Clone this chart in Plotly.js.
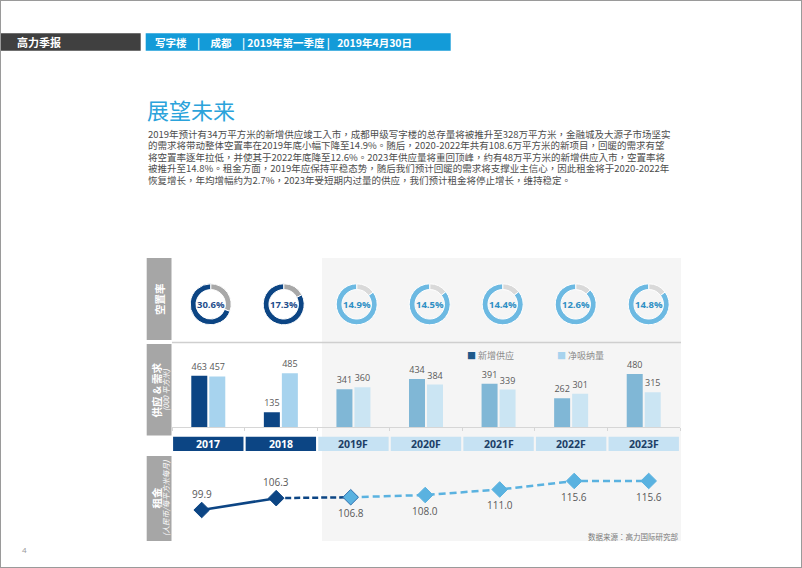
<!DOCTYPE html>
<html><head><meta charset="utf-8">
<script src="https://cdn.plot.ly/plotly-3.0.1.min.js"></script>
<style>html,body{margin:0;padding:0;background:#fff;}#chart{width:802px;height:568px;}</style>
</head><body><div id="chart"></div>
<script>
// ---------- data ----------
const years = ['2017','2018','2019F','2020F','2021F','2022F','2023F'];
const isForecast = [false,false,true,true,true,true,true];
const vacancy = [30.6,17.3,14.9,14.5,14.4,12.6,14.8];
const newSupply = [463,135,341,434,391,262,480];
const netAbsorption = [457,485,360,384,339,301,315];
const rent = [99.9,106.3,106.8,108.0,111.0,115.6,115.6];
const rentLabelAbove = [true,true,false,false,false,false,false];
const legendLabels = ['新增供应','净吸纳量'];
const headerLeft = '高力季报';
const headerRight = '写字楼\u3000|\u3000成都\u3000|\u20092019年第一季度\u2009|\u2002\u20092019年4月30日';
const pageTitle = '展望未来';
const paragraph = [
 '2019年预计有34万平方米的新增供应竣工入市，成都甲级写字楼的总存量将被推升至328万平方米，金融城及大源子市场坚实',
 '的需求将带动整体空置率在2019年底小幅下降至14.9%。随后，2020-2022年共有108.6万平方米的新项目，回暖的需求有望',
 '将空置率逐年拉低，并使其于2022年底降至12.6%。2023年供应量将重回顶峰，约有48万平方米的新增供应入市，空置率将',
 '被推升至14.8%。租金方面，2019年应保持平稳态势，随后我们预计回暖的需求将支撑业主信心，因此租金将于2020-2022年',
 '恢复增长，年均增幅约为2.7%，2023年受短期内过量的供应，我们预计租金将停止增长，维持稳定。'
];
const rowLabels = ['空置率','供应 & 需求','租金'];
const rowSubLabels = ['','(000 平方米)','(人民币/每平方米每月)'];
const sourceText = '数据来源：高力国际研究部';
const pageNo = '4';

// ---------- geometry helpers ----------
const W=802,H=568;
const X=p=>p/W, Y=p=>1-p/H;
const cjk='"Noto Sans CJK TC","Noto Sans CJK SC",sans-serif';
const num='"Open Sans","Noto Sans CJK TC",sans-serif';
const colL=172,colR=680;
const darkBlue='#0c4584', grayTxt='#595959';

const supplyColors = isForecast.map(f=>f?'#80b7d6':'#0c4584');
const absorbColors = isForecast.map(f=>f?'#cbe5f3':'#a7d3ee');

const traces=[];
traces.push({type:'bar',x:years,y:newSupply,xaxis:'x',yaxis:'y',marker:{color:supplyColors},
  text:newSupply.map(String),textposition:'outside',cliponaxis:false,
  textfont:{family:num,size:9,color:grayTxt},hoverinfo:'skip'});
traces.push({type:'bar',x:years,y:netAbsorption,xaxis:'x',yaxis:'y',marker:{color:absorbColors},
  text:netAbsorption.map(String),textposition:'outside',cliponaxis:false,
  textfont:{family:num,size:9,color:grayTxt},hoverinfo:'skip'});

const annotations=[], shapes=[];
function note(o){ annotations.push(Object.assign({xref:'paper',yref:'paper',showarrow:false,xanchor:'center',yanchor:'middle'},o)); }

// donuts
vacancy.forEach((v,i)=>{
  const cx=210.7+73*i, cy=304.3, r=20.5;
  const f=isForecast[i];
  traces.push({type:'pie',values:[v,100-v],sort:false,direction:'clockwise',rotation:0,
    hole:0.72,textinfo:'none',hoverinfo:'skip',showlegend:false,
    marker:{colors:[f?'#d9d9d9':'#a8a8a8', f?'#6cb9e2':'#0c4584'],line:{color:'#fff',width:1}},
    domain:{x:[X(cx-r),X(cx+r)],y:[Y(cy+r),Y(cy-r)]}});
  note({x:X(cx),y:Y(cy),text:'<b>'+v.toFixed(1)+'%</b>',font:{family:num,size:9.5,color:f?'#2f8fc4':'#1f4e8c'}});
});

// rent lines
const idx=years.map((_,i)=>i);
traces.push({type:'scatter',mode:'lines',xaxis:'x2',yaxis:'y2',x:idx.slice(0,2),y:rent.slice(0,2),
  line:{color:darkBlue,width:2.5},hoverinfo:'skip'});
traces.push({type:'scatter',mode:'lines',xaxis:'x2',yaxis:'y2',x:idx.slice(1,3),y:rent.slice(1,3),
  line:{color:darkBlue,width:2.5,dash:'6px,3px'},hoverinfo:'skip'});
traces.push({type:'scatter',mode:'lines',xaxis:'x2',yaxis:'y2',x:idx.slice(2),y:rent.slice(2),
  line:{color:'#5ab2e0',width:2.5,dash:'7px,4px'},hoverinfo:'skip'});
traces.push({type:'scatter',mode:'markers',xaxis:'x2',yaxis:'y2',x:idx,y:rent,hoverinfo:'skip',
  marker:{symbol:'diamond',size:12,color:isForecast.map(f=>f?'#5ab2e0':darkBlue),
    line:{width:1,color:isForecast.map((f,i)=>i===2?'#2e6fae':(f?'#5ab2e0':darkBlue))}}});
rent.forEach((v,i)=>{
  note({xref:'x2',yref:'y2',x:i,y:v,yshift:rentLabelAbove[i]?16:-16,
    text:v.toFixed(1),font:{family:num,size:10,color:grayTxt}});
});

// ---------- background shapes ----------
function rect(o){ shapes.push(Object.assign({type:'rect',xref:'paper',yref:'paper',layer:'below',line:{width:0}},o)); }
rect({x0:X(322),x1:X(681),y0:Y(541),y1:Y(258),fillcolor:'#f5f5f5'});
[[258,340],[344,435.5],[456,541]].forEach(b=>{
  rect({x0:X(146.7),x1:X(171.5),y0:Y(b[1]),y1:Y(b[0]),fillcolor:'#a6a6a6'});
});
shapes.push({type:'line',layer:'below',xref:'paper',yref:'paper',x0:X(172),x1:X(681),y0:Y(342.5),y1:Y(342.5),line:{color:'#cfcfcf',width:1.5}});
// year band
years.forEach((y,i)=>{
  shapes.push({type:'rect',layer:'below',xref:'x',yref:'paper',x0:i-0.485,x1:i+0.485,y0:Y(451),y1:Y(436.7),
    fillcolor:isForecast[i]?'#c6e2f3':darkBlue,line:{width:0}});
  note({xref:'x',x:i,y:Y(443.8),text:'<b>'+y+'</b>',
    font:{family:num,size:10.5,color:isForecast[i]?'#1d3f66':'#ffffff'}});
});
// header
rect({x0:0,x1:X(140.7),y0:Y(50.7),y1:Y(33.3),fillcolor:'#404040'});
rect({x0:X(145.7),x1:X(450.7),y0:Y(50.7),y1:Y(33.3),fillcolor:'#139bd8'});
// page border
shapes.push({type:'rect',layer:'below',xref:'paper',yref:'paper',x0:0,x1:1,y0:0,y1:1,line:{color:'#9a9a9a',width:2}});

note({x:X(15),y:Y(42),xanchor:'left',text:'<b>'+headerLeft+'</b>',font:{family:cjk,size:11,color:'#fff'}});
note({x:X(153),y:Y(42),xanchor:'left',text:'<b>'+headerRight+'</b>',font:{family:cjk,size:10.5,color:'#fff'}});
note({x:X(145),y:Y(109),xanchor:'left',text:pageTitle,font:{family:cjk,size:22,color:'#2ba3db'}});
paragraph.forEach((t,i)=>{
  note({x:X(146),y:Y(133.5+11.6*i),xanchor:'left',text:t,font:{family:cjk,size:9.5,color:'#4d4d4d'}});
});
// row labels
const rowCenters=[299,390,498];
rowLabels.forEach((t,i)=>{
  const hasSub=rowSubLabels[i]!=='';
  note({x:X(hasSub?155.5:159),y:Y(rowCenters[i]),textangle:-90,
    text:'<b>'+t+'</b>',font:{family:cjk,size:10.5,color:'#fff'}});
  if(hasSub) note({x:X(165),y:Y(rowCenters[i]),textangle:-90,
    text:'<i>'+rowSubLabels[i]+'</i>',font:{family:cjk,size:7.5,color:'#fff'}});
});
// legend
const legColors=['#1f5a8a','#a7d3ee'], legX=[465,555];
legendLabels.forEach((t,i)=>{
  note({x:X(legX[i]),y:Y(355),xanchor:'left',
    text:'<span style="color:'+legColors[i]+'">■</span> '+t,font:{family:cjk,size:9,color:'#8c8c8c'}});
});
note({x:X(680),y:Y(536),xanchor:'right',text:sourceText,font:{family:cjk,size:7.5,color:'#7a7a7a'}});
note({x:X(24),y:Y(549),text:pageNo,font:{family:num,size:8,color:'#999'}});

const rentScale=1.85;
const rentLo=99.9-(541-510)/rentScale, rentHi=rentLo+(541-456)/rentScale;
const rx0=-(201.7-colL)/74.5, rx1=rx0+(colR-colL)/74.5;

const layout={width:W,height:H,margin:{l:0,r:0,t:0,b:0},paper_bgcolor:'#fff',plot_bgcolor:'rgba(0,0,0,0)',
  showlegend:false,barmode:'group',bargap:0.504,bargroupgap:0.111,
  xaxis:{domain:[X(colL),X(colR)],type:'category',range:[-0.5,6.5],showgrid:false,zeroline:false,
    showline:true,linecolor:'#d6d6d6',linewidth:1,ticks:'outside',tickson:'boundaries',ticklen:3,tickcolor:'#d6d6d6',
    showticklabels:false,fixedrange:true},
  yaxis:{domain:[Y(427.3),Y(345)],range:[0,(427.3-345)/0.1113],visible:false,fixedrange:true},
  xaxis2:{domain:[X(colL),X(colR)],range:[rx0,rx1],anchor:'y2',visible:false},
  yaxis2:{domain:[Y(541),Y(456)],range:[rentLo,rentHi],anchor:'x2',visible:false},
  shapes:shapes,annotations:annotations};
Plotly.newPlot('chart',traces,layout,{displayModeBar:false,staticPlot:true});
</script></body></html>
